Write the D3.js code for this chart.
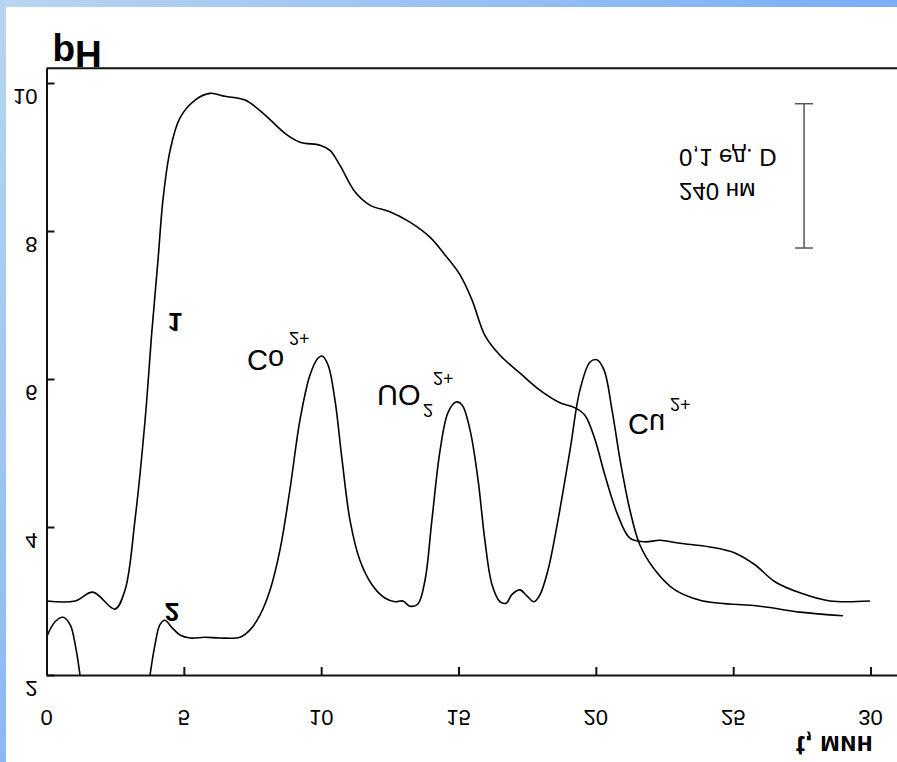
<!DOCTYPE html>
<html>
<head>
<meta charset="utf-8">
<script src="https://cdn.jsdelivr.net/npm/d3@7"></script>
<style>
   body { margin: 0; }
   text { font-family: "Liberation Sans", Arial, sans-serif; fill: #000; }
</style>
</head>
<body>
<div id="chart"></div>
<script>
const width = 897;
const height = 762;

// curve 1: pH of the eluate
const ph_t   = [0, 1.04, 1.69, 2.49, 2.86, 3.22, 3.59, 3.84, 4.06, 4.24, 4.5, 4.86, 5.41, 5.95, 6.5, 7.23, 7.95, 8.68, 9.23, 9.96, 10.32, 10.68, 11.23, 11.77, 12.5, 13.23, 13.95, 14.5, 15.05, 15.49, 15.96, 16.51, 17.24, 17.96, 18.69, 19.24, 19.6, 19.97, 20.33, 20.8, 21.24, 21.79, 22.33, 23.06, 24.15, 25.06, 25.79, 26.52, 27.43, 28.52, 29.98];
const ph_val = [3.0, 3.0, 3.12, 2.89, 3.15, 4.09, 5.45, 6.66, 7.61, 8.42, 9.09, 9.53, 9.77, 9.86, 9.82, 9.77, 9.57, 9.32, 9.2, 9.16, 9.09, 8.89, 8.53, 8.35, 8.26, 8.12, 7.92, 7.68, 7.41, 7.07, 6.59, 6.32, 6.08, 5.85, 5.68, 5.61, 5.51, 5.18, 4.7, 4.16, 3.85, 3.8, 3.82, 3.78, 3.73, 3.65, 3.49, 3.26, 3.11, 3.0, 3.0];

// curve 2: absorbance at 240 nm (read on the pH axis)
const abs_t   = [0, 0.31, 0.6, 0.86, 1.07, 1.22, 1.51, 3.48, 3.77, 3.95, 4.13, 4.31, 4.57, 4.86, 5.22, 5.77, 6.31, 7.04, 7.41, 7.77, 8.14, 8.5, 8.86, 9.23, 9.59, 9.88, 10.03, 10.25, 10.5, 10.76, 11.05, 11.41, 11.85, 12.32, 12.69, 12.98, 13.23, 13.52, 13.78, 14.03, 14.33, 14.62, 14.91, 15.13, 15.42, 15.71, 15.96, 16.22, 16.51, 16.73, 16.95, 17.24, 17.49, 17.75, 17.96, 18.26, 18.62, 19.06, 19.42, 19.79, 20.04, 20.3, 20.59, 20.88, 21.24, 21.6, 22.15, 22.88, 23.79, 24.52, 25.97, 27.43, 29.0];
const abs_val = [2.51, 2.72, 2.78, 2.68, 2.36, 2.0, 1.2, 1.2, 2.0, 2.41, 2.68, 2.74, 2.64, 2.54, 2.5, 2.51, 2.5, 2.51, 2.61, 2.81, 3.15, 3.69, 4.5, 5.45, 6.05, 6.28, 6.31, 6.19, 5.72, 4.91, 4.09, 3.55, 3.22, 3.04, 2.99, 3.0, 2.93, 2.96, 3.28, 4.09, 5.04, 5.55, 5.69, 5.65, 5.31, 4.64, 3.82, 3.22, 2.99, 2.97, 3.09, 3.15, 3.07, 2.99, 3.08, 3.42, 4.09, 5.04, 5.85, 6.23, 6.26, 6.12, 5.58, 4.91, 4.23, 3.76, 3.42, 3.15, 3.01, 2.97, 2.93, 2.85, 2.8];

const xTicks = [0, 5, 10, 15, 20, 25, 30];
const yTicks = [2, 4, 6, 8, 10];

const yTitle = "pH";
const xTitle = "t, мин";
const scaleText = ["0,1 ед. D", "240 нм"];

const svg = d3.select("#chart").append("svg")
   .attr("width", width)
   .attr("height", height);

const defs = svg.append("defs");
const grad = defs.append("linearGradient")
   .attr("id", "frame")
   .attr("gradientUnits", "userSpaceOnUse")
   .attr("x1", 0).attr("y1", 0)
   .attr("x2", width).attr("y2", height);
grad.append("stop").attr("offset", 0).attr("stop-color", "#b9d5f0");
grad.append("stop").attr("offset", 1).attr("stop-color", "#4a92f8");

svg.append("rect")
   .attr("width", width)
   .attr("height", height)
   .attr("fill", "url(#frame)");
svg.append("rect")
   .attr("x", 6)
   .attr("y", 7)
   .attr("width", width - 6)
   .attr("height", height - 7)
   .attr("fill", "#fff");

const x = d3.scaleLinear()
   .domain([0, 31])
   .range([46.5, 898]);

const y = d3.scaleLinear()
   .domain([2, 10.2])
   .range([675, 68.2]);

// glyphs in the source are flipped upside down, each around its own middle
function flipText(px, py, txt, size, anchor, weight) {
   return svg.append("text")
      .attr("transform", `translate(${px},${py}) scale(1,-1)`)
      .attr("dy", "0.35em")
      .attr("text-anchor", anchor || "middle")
      .style("font-size", size + "px")
      .style("font-weight", weight || "normal")
      .text(txt);
}

defs.append("clipPath")
   .attr("id", "plot")
   .append("rect")
   .attr("x", x(0))
   .attr("y", y(10.2))
   .attr("width", x(31) - x(0))
   .attr("height", y(2) - y(10.2));

const line = d3.line()
   .x(d => x(d[0]))
   .y(d => y(d[1]))
   .curve(d3.curveCatmullRom.alpha(0.5));

const curves = [
   d3.zip(ph_t, ph_val),
   d3.zip(abs_t, abs_val)
];

svg.append("g")
   .attr("clip-path", "url(#plot)")
   .selectAll("path.curve")
   .data(curves)
   .enter()
   .append("path")
   .attr("class", "curve")
   .attr("d", line)
   .attr("fill", "none")
   .attr("stroke", "#000")
   .attr("stroke-width", 1.6);

// axes
const xAxis = d3.axisBottom(x)
   .tickValues(xTicks)
   .tickSizeInner(-8)
   .tickSizeOuter(0)
   .tickFormat("");

const yAxis = d3.axisLeft(y)
   .tickValues(yTicks)
   .tickSizeInner(-8)
   .tickSizeOuter(0)
   .tickFormat("");

svg.append("g")
   .attr("transform", `translate(0,${y(2)})`)
   .call(xAxis);

svg.append("g")
   .attr("transform", `translate(${x(0)},0)`)
   .call(yAxis);

svg.append("line")
   .attr("x1", x(0))
   .attr("x2", x(31))
   .attr("y1", y(10.2))
   .attr("y2", y(10.2));

svg.selectAll(".domain, .tick line, line")
   .attr("stroke", "#111")
   .attr("stroke-width", 2);

xTicks.forEach(d => flipText(x(d), y(2) + 43, d, 22));
yTicks.forEach(d => flipText(x(0) - 9, y(d) + 14, d, 22, "end"));

flipText(x(0) + 6, y(10.2) - 14, yTitle, 37, "start", "bold");
flipText(796, y(2) + 70, xTitle, 27, "start", "bold");

// curve numbers
flipText(x(4.68), y(6.77), "1", 26, "middle", "bold");
flipText(x(4.57), y(2.85), "2", 26, "middle", "bold");

// peak labels
flipText(x(7.3), y(6.26), "Co", 29, "start");
flipText(x(8.83), y(6.55), "2+", 18, "start");

flipText(x(12.03), y(5.78), "UO", 29, "start");
flipText(x(13.71), y(5.58), "2", 18, "start");
flipText(x(14.07), y(6.01), "2+", 18, "start");

flipText(x(21.17), y(5.39), "Cu", 29, "start");
flipText(x(22.7), y(5.66), "2+", 18, "start");

// absorbance scale bar
const bar = svg.append("g")
   .attr("stroke", "#555")
   .attr("stroke-width", 1.5);
bar.append("line")
   .attr("x1", x(27.58)).attr("x2", x(27.58))
   .attr("y1", y(9.72)).attr("y2", y(7.77));
[9.72, 7.77].forEach(v => {
   bar.append("line")
      .attr("x1", x(27.58) - 9).attr("x2", x(27.58) + 9)
      .attr("y1", y(v)).attr("y2", y(v));
});

flipText(x(23.03), y(8.99), scaleText[0], 24, "start");
flipText(x(23.03), y(8.53), scaleText[1], 24, "start");
</script>
</body>
</html>
